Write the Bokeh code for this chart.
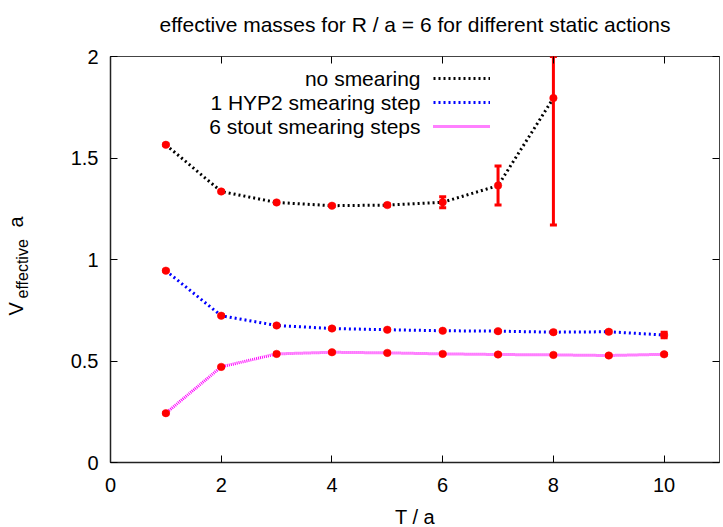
import numpy as np
from bokeh.plotting import figure
from bokeh.models import (Range1d, LinearAxis, FixedTicker, Legend, LegendItem,
                          Label, ColumnDataSource, CustomLabelingPolicy)
from bokeh.core.properties import value
from bokeh.embed import file_html
from bokeh.resources import INLINE

# ---------------- data ----------------
title_text = "effective masses for R / a = 6 for different static actions"
x_label = "T / a"
y_label_main = "V"
y_label_sub = "effective"
y_label_tail = "a"

series_names = ["no smearing", "1 HYP2 smearing step", "6 stout smearing steps"]

t_nosmear = [1, 2, 3, 4, 5, 6, 7, 8]
v_nosmear = [1.565, 1.335, 1.281, 1.265, 1.268, 1.282, 1.364, 1.795]
e_nosmear = [0.004, 0.004, 0.004, 0.004, 0.005, 0.027, 0.096, 0.625]

t_hyp = [1, 2, 3, 4, 5, 6, 7, 8, 9, 10]
v_hyp = [0.945, 0.723, 0.675, 0.660, 0.654, 0.649, 0.647, 0.642, 0.644, 0.628]
e_hyp = [0.003, 0.003, 0.003, 0.003, 0.003, 0.003, 0.003, 0.004, 0.005, 0.014]

t_stout = [1, 2, 3, 4, 5, 6, 7, 8, 9, 10]
v_stout = [0.243, 0.471, 0.535, 0.543, 0.540, 0.535, 0.532, 0.530, 0.527, 0.533]
e_stout = [0.003, 0.003, 0.003, 0.003, 0.003, 0.003, 0.003, 0.003, 0.003, 0.004]

x_ticks = [0, 2, 4, 6, 8, 10]
x_tick_labels = ["0", "2", "4", "6", "8", "10"]
y_ticks = [0, 0.5, 1, 1.5, 2]
y_tick_labels = ["0", "0.5", "1", "1.5", "2"]
x_min, x_max = 0, 11
y_min, y_max = 0, 2

# ---------------- styles ----------------
FONT = "Liberation Sans"
line_colors = ["#000000", "#0000ff", "#ff00ff"]
line_dashes = ["2 3", "2 3", "1 1"]
point_color = "#ff0000"

p = figure(width=723, height=527, output_backend="svg", toolbar_location=None,
           x_range=Range1d(x_min, x_max), y_range=Range1d(y_min, y_max),
           min_border_left=110, min_border_right=1, min_border_top=56,
           min_border_bottom=65)
p.grid.visible = False
p.outline_line_color = "#444444"
p.outline_line_width = 1
p.background_fill_color = "white"
p.border_fill_color = "white"

x_tick_map = {t: l for t, l in zip(x_ticks, x_tick_labels)}
y_tick_map = {t: l for t, l in zip(y_ticks, y_tick_labels)}

for ax in p.xaxis:
    ax.ticker = FixedTicker(ticks=x_ticks)
    ax.major_label_overrides = x_tick_map
for ax in p.yaxis:
    ax.ticker = FixedTicker(ticks=y_ticks)
    ax.major_label_overrides = y_tick_map
for ax in list(p.xaxis) + list(p.yaxis):
    ax.major_tick_in = 7
    ax.major_tick_out = 0
    ax.minor_tick_in = 0
    ax.minor_tick_out = 0
    ax.major_tick_line_color = "black"
    ax.axis_line_color = "#222222"
    ax.axis_line_width = 1.5
    ax.major_label_text_font = FONT
    ax.major_label_text_font_size = "20px"
    ax.major_label_text_color = "black"
p.xaxis.major_label_standoff = 15
p.yaxis.major_label_standoff = 12

# mirror ticks on top and right (no labels drawn)
top_axis = LinearAxis(ticker=FixedTicker(ticks=x_ticks),
                      major_label_policy=CustomLabelingPolicy(code="return new Set()"),
                      major_label_text_font_size="1px",
                      major_label_standoff=0, major_tick_in=7, major_tick_out=0,
                      minor_tick_in=0, minor_tick_out=0, axis_line_color=None,
                      major_tick_line_color="black")
right_axis = LinearAxis(ticker=FixedTicker(ticks=y_ticks),
                        major_label_policy=CustomLabelingPolicy(code="return new Set()"),
                        major_label_text_font_size="1px",
                        major_label_standoff=0, major_tick_in=7, major_tick_out=0,
                        minor_tick_in=0, minor_tick_out=0, axis_line_color=None,
                        major_tick_line_color="black")
p.add_layout(top_axis, "above")
p.add_layout(right_axis, "right")

series = [(t_nosmear, v_nosmear, e_nosmear),
          (t_hyp, v_hyp, e_hyp),
          (t_stout, v_stout, e_stout)]

line_renderers = []
for (t, v, e), col, dash in zip(series, line_colors, line_dashes):
    r = p.line(t, v, line_color=col, line_width=3, line_dash=dash)
    line_renderers.append(r)

for (t, v, e) in series:
    t_arr = np.array(t, dtype=float)
    v_arr = np.array(v)
    e_arr = np.array(e)
    lo = v_arr - e_arr
    hi = v_arr + e_arr
    src = ColumnDataSource(dict(x=t_arr, lo=lo, hi=hi,
                                hi_c=np.minimum(hi, y_max), lo_c=np.maximum(lo, y_min)))
    p.segment(x0="x", y0="lo", x1="x", y1="hi", source=src,
              line_color=point_color, line_width=3)
    p.scatter(x="x", y="hi_c", source=src, marker="dash", size=7,
              line_color=point_color, line_width=3)
    p.scatter(x="x", y="lo_c", source=src, marker="dash", size=7,
              line_color=point_color, line_width=3)

for (t, v, e) in series:
    p.scatter(t, v, marker="circle", size=7.5, fill_color=point_color,
              line_color=point_color, line_width=0.5)

# legend samples (gnuplot style: text left, sample right)
legend = Legend(items=[LegendItem(label=value(" "), renderers=[r]) for r in line_renderers],
                location=(323, 324), glyph_width=57, glyph_height=24, label_height=24,
                label_width=0, label_standoff=0, spacing=0, padding=0, margin=0,
                border_line_color=None, background_fill_alpha=0,
                label_text_font_size="21px")
p.add_layout(legend, "center")

legend_row_offsets = [-22, -46, -70]
for name, dy in zip(series_names, legend_row_offsets):
    p.add_layout(Label(x=x_min, y=y_max, x_offset=310, y_offset=dy, text=name,
                       text_align="right", text_baseline="middle",
                       text_font=FONT, text_font_size="21px", text_color="black"))

x_mid = (x_min + x_max) / 2.0

# title (placed in the top border panel)
p.add_layout(Label(x=x_mid, y=y_max, y_offset=32, text=title_text,
                   text_align="center", text_baseline="alphabetic",
                   text_font=FONT, text_font_size="21px", text_color="black"), "above")

# x-axis label (placed in the bottom border panel)
p.add_layout(Label(x=x_mid, y=y_min, y_offset=-54, text=x_label,
                   text_align="center", text_baseline="alphabetic",
                   text_font=FONT, text_font_size="20px", text_color="black"), "below")

# y-axis label with subscript, rotated (placed in the left border panel)
p.add_layout(Label(x=x_min, y=(462 - 315) / 203.0, x_offset=-95, text=y_label_main,
                   angle=np.pi / 2, text_align="left", text_baseline="alphabetic",
                   text_font=FONT, text_font_size="20px", text_color="black"), "left")
p.add_layout(Label(x=x_min, y=(462 - 298) / 203.0, x_offset=-88, text=y_label_sub,
                   angle=np.pi / 2, text_align="left", text_baseline="alphabetic",
                   text_font=FONT, text_font_size="16px", text_color="black"), "left")
p.add_layout(Label(x=x_min, y=(462 - 227) / 203.0, x_offset=-95, text=y_label_tail,
                   angle=np.pi / 2, text_align="left", text_baseline="alphabetic",
                   text_font=FONT, text_font_size="20px", text_color="black"), "left")

open("out.html", "w").write(file_html(p, INLINE))
